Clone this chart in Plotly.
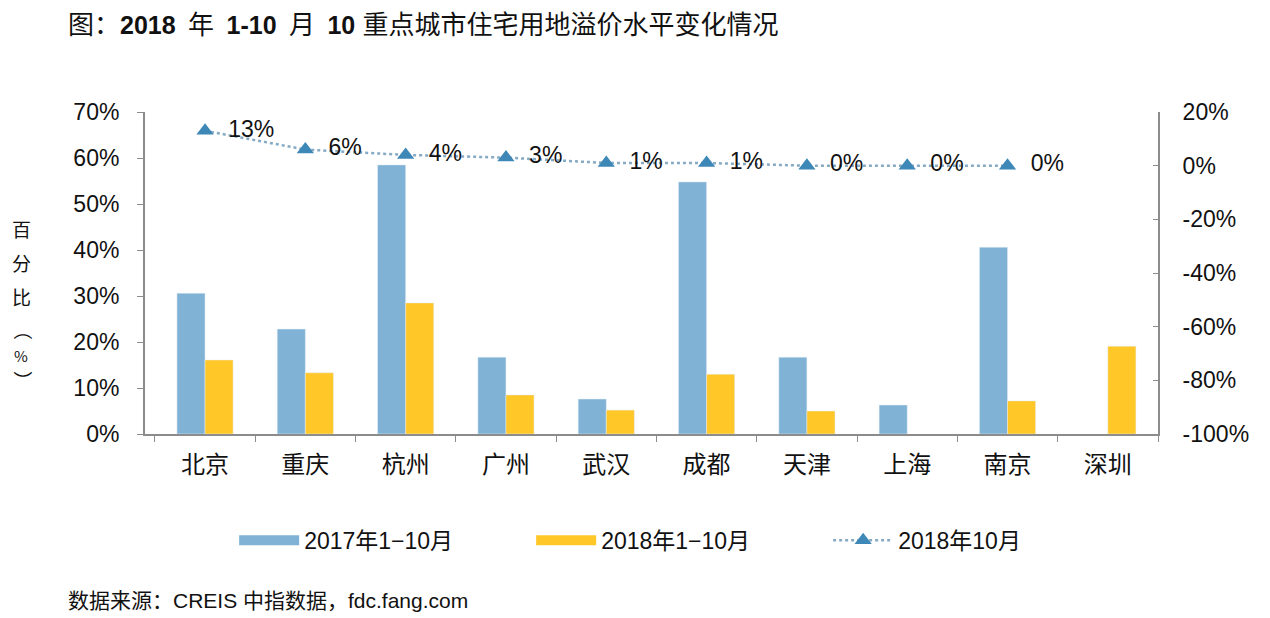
import plotly.graph_objects as go

cities = ['北京', '重庆', '杭州', '广州', '武汉', '成都', '天津', '上海', '南京', '深圳']
premium_2017 = [30.6, 22.8, 58.5, 16.7, 7.6, 54.8, 16.7, 6.3, 40.6, None]
premium_2018 = [16.1, 13.3, 28.5, 8.5, 5.2, 13.0, 5.0, None, 7.2, 19.1]
oct_cities = cities[:9]
premium_oct = [13, 6, 4, 3, 1, 1, 0, 0, 0]
oct_labels = [f'  {v}%' for v in premium_oct]
y2_ticks = [-100, -80, -60, -40, -20, 0, 20]
y2_labels = [f'{v}%' for v in y2_ticks]

FONT = 'Liberation Sans, Arial, Noto Sans CJK SC'
AXIS_GREY = '#8c8c8c'
BLUE = '#7fb2d4'
YELLOW = '#ffc727'

fig = go.Figure()
fig.add_trace(go.Bar(x=cities, y=premium_2017, name='2017年1−10月', marker_color=BLUE, showlegend=False))
fig.add_trace(go.Bar(x=cities, y=premium_2018, name='2018年1−10月', marker_color=YELLOW, showlegend=False))
# legend swatches shaped like the wide rectangles of the original
fig.add_trace(go.Scatter(x=[None], y=[None], mode='lines', name='2017年1−10月', line=dict(color=BLUE, width=14)))
fig.add_trace(go.Scatter(x=[None], y=[None], mode='lines', name='2018年1−10月', line=dict(color=YELLOW, width=14)))
fig.add_trace(
    go.Scatter(
        x=oct_cities, y=premium_oct, name='2018年10月', yaxis='y2',
        mode='lines+markers+text', text=oct_labels, textposition='middle right',
        textfont=dict(size=23, color='#111111'),
        line=dict(color='#86aac4', width=2.5, dash='dot'),
        marker=dict(symbol='triangle-up', size=15, color='#3d88b6'),
    )
)

# the page body has an 8px margin, so the plot box is offset to land at x 145-1158, y 112-434
fig.update_layout(
    width=1270,
    height=618,
    plot_bgcolor='white',
    paper_bgcolor='white',
    font=dict(family=FONT, size=20, color='#111111'),
    margin=dict(l=137, r=120, t=104, b=192),
    barmode='group',
    bargap=0.44,
    bargroupgap=0,
    showlegend=True,
    legend=dict(
        orientation='h', x=0.088, xanchor='left', y=-0.33, yanchor='middle',
        font=dict(size=23), itemwidth=60, entrywidth=222,
    ),
    xaxis=dict(
        showline=True, linecolor=AXIS_GREY, linewidth=2, automargin=False,
        ticks='outside', tickson='boundaries', tickcolor=AXIS_GREY, ticklen=6,
        ticklabelstandoff=8,
        tickfont=dict(family='Noto Sans CJK SC', size=24), showgrid=False,
    ),
    yaxis=dict(
        range=[0, 70], dtick=10, ticksuffix='%', automargin=False,
        showline=True, linecolor=AXIS_GREY, linewidth=2,
        ticks='outside', tickcolor=AXIS_GREY, ticklen=6, ticklabelstandoff=13,
        showgrid=False, zeroline=False, tickfont=dict(size=23),
    ),
    yaxis2=dict(
        range=[-100, 20], tickvals=y2_ticks, ticktext=y2_labels, overlaying='y', side='right',
        showline=True, linecolor=AXIS_GREY, linewidth=2, automargin=False,
        ticks='inside', tickcolor=AXIS_GREY, ticklen=5, ticklabelstandoff=18,
        showgrid=False, zeroline=False, tickfont=dict(size=23),
    ),
)

# vertical axis title, one character per line; parentheses turned to lie across the column
for ch, ypx, angle in zip(['百', '分', '比', '（', '%', '）'],
                          [228, 262, 296, 330, 355, 380],
                          [0, 0, 0, 90, 0, 90]):
    fig.add_annotation(
        xref='paper', yref='paper', x=((24 if angle else 21) - 145) / 1013, y=(434 - ypx) / 322,
        xanchor='center', yanchor='middle', text=ch, showarrow=False, textangle=angle,
        borderpad=0, borderwidth=0,
        font=dict(family='Noto Sans CJK SC', size={'%': 15, '（': 19, '）': 19}.get(ch, 19)),
    )
fig.add_annotation(
    xref='paper', yref='paper', x=(68 - 145) / 1013, y=(434 - 25) / 322, xanchor='left', yanchor='middle',
    text=('图：<b><span style="font-size:25px">2018</span></b> \u2009年 \u2009'
          '<b><span style="font-size:25px">1-10</span></b> \u2009月 \u2009'
          '<b><span style="font-size:25px">10</span></b> 重点城市住宅用地溢价水平变化情况'),
    showarrow=False, borderpad=0, borderwidth=0, font=dict(size=26),
)
fig.add_annotation(
    xref='paper', yref='paper', x=(66 - 145) / 1013, y=(434 - 600) / 322, xanchor='left', yanchor='middle',
    text='数据来源：CREIS 中指数据，fdc.fang.com',
    showarrow=False, font=dict(size=21),
)

fig.write_html('out.html')
